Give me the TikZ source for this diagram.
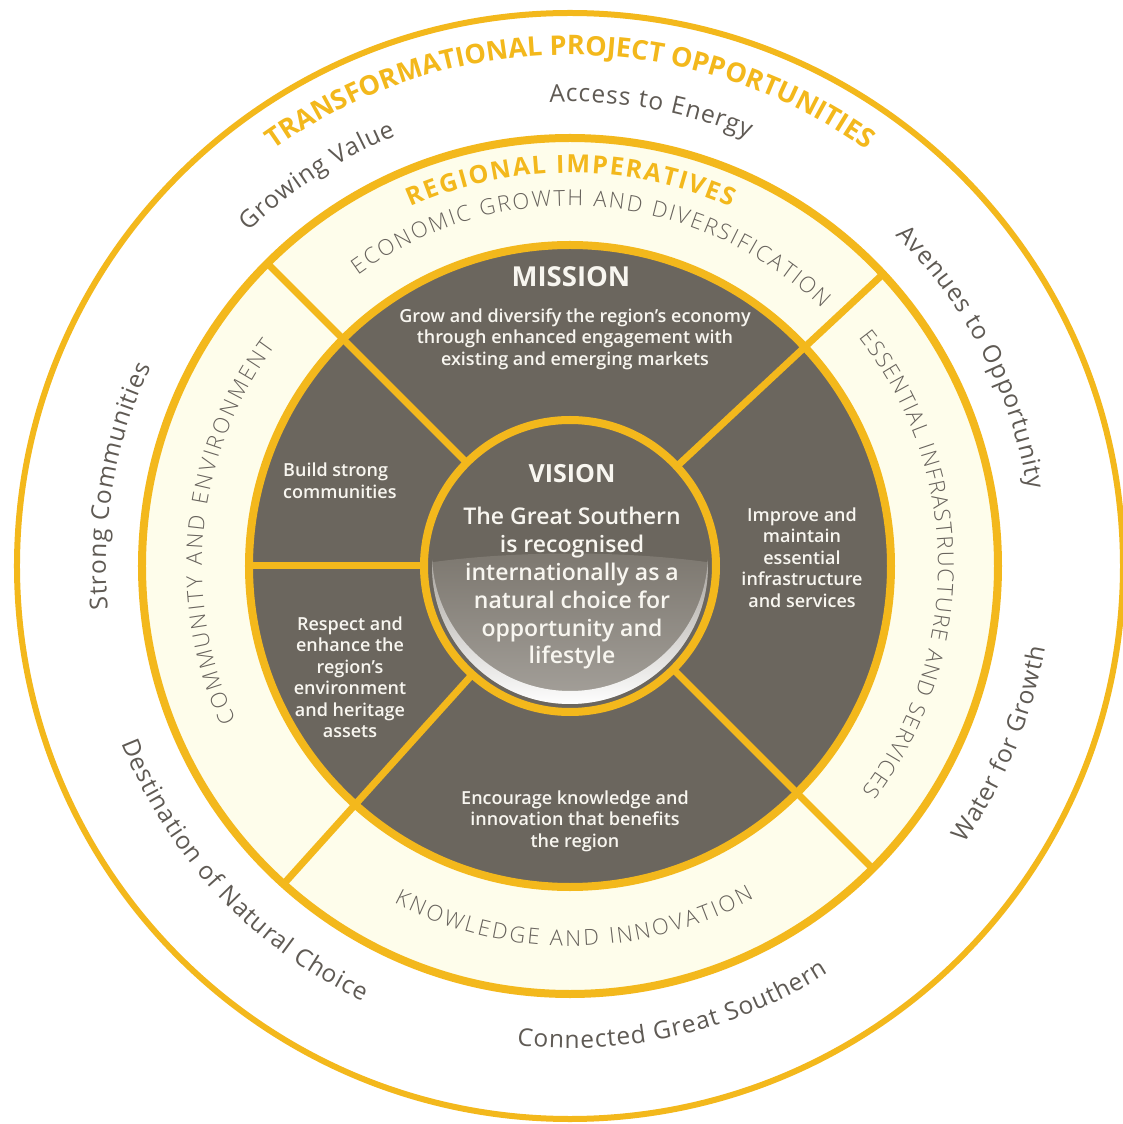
\documentclass[tikz,border=0pt]{standalone}
\usepackage{fontspec}
\setmainfont{Open Sans}
\IfFontExistsTF{Open Sans Semibold}{\newfontfamily\semifont{Open Sans Semibold}}{%
  \IfFontExistsTF{Open Sans SemiBold}{\newfontfamily\semifont{Open Sans SemiBold}}{\newfontfamily\semifont{Open Sans}}}
\IfFontExistsTF{Open Sans Light}{\newfontfamily\lightfont{Open Sans Light}}{\newfontfamily\lightfont{Open Sans}}
\usetikzlibrary{decorations.text}
\definecolor{gold}{HTML}{F3B81C}
\definecolor{greyfill}{HTML}{6B665E}
\definecolor{cream}{HTML}{FEFDEB}
\definecolor{txtgrey}{HTML}{5F5A54}
\definecolor{bandgrey}{HTML}{67625C}
\definecolor{txtwhite}{HTML}{F8F6F0}
\definecolor{visA}{HTML}{7C776F}
\definecolor{visB}{HTML}{A8A49E}
\newcommand\fOuter{\fontsize{24.5}{24.5}\selectfont\kern0.9pt}
\newcommand\fTrans{\bfseries\fontsize{27}{27}\selectfont}
\newcommand\fRegHead{\bfseries\fontsize{25}{25}\selectfont\kern1.7pt}
\newcommand\fBand{\lightfont\fontsize{22}{22}\selectfont}
% clockwise text (letters point outward), baseline radius #1, centre angle #2
\newcommand\cwtext[4]{%
  \pgfmathsetmacro\myAngA{#2+80}\pgfmathsetmacro\myAngB{#2-80}%
  \path[decorate,decoration={text along path,text align=center,text color=#3,text={#4}}]
    (\myAngA:#1pt) arc[start angle=\myAngA,end angle=\myAngB,radius=#1pt];}
% counter-clockwise text (letters point inward)
\newcommand\ccwtext[4]{%
  \pgfmathsetmacro\myAngA{#2+80}\pgfmathsetmacro\myAngB{#2-80}%
  \path[decorate,decoration={text along path,text align=center,text color=#3,text={#4}}]
    (\myAngB:#1pt) arc[start angle=\myAngB,end angle=\myAngA,radius=#1pt];}
\tikzset{
  goldring/.style={draw=gold,line width=#1},
  divider/.style={draw=gold,line width=7pt},
  bodytext/.style={text=txtwhite,font=\semifont\fontsize{18}{21.5}\selectfont,align=center,inner sep=0pt},
  headtext/.style={text=txtwhite,font=\bfseries\fontsize{25}{25}\selectfont,inner sep=0pt},
  visiontext/.style={text=txtwhite,font=\semifont\fontsize{23}{27.8}\selectfont,align=center,inner sep=0pt},
}
\begin{document}
\begin{tikzpicture}[x=1pt,y=1pt]
\useasboundingbox (-570,-558) rectangle (553,566);
\fill[white] (-570,-558) rectangle (553,566);
% outer ring
\draw[goldring=6pt] (0,0) circle[radius=553pt];
% regional band
\fill[cream] (0,0) circle[radius=428pt];
\draw[goldring=8pt] (0,0) circle[radius=428pt];
% mission disc
\fill[greyfill] (0,0) circle[radius=321pt];
\draw[goldring=8pt] (0,0) circle[radius=321pt];
% dividers
\draw[divider] (135:146pt) -- (135:428pt);
\draw[divider] (43:146pt) -- (43:428pt);
\draw[divider] (-45:146pt) -- (-45:428pt);
\draw[divider] (228:146pt) -- (228:428pt);
\draw[divider] (180:146pt) -- (180:321pt);
% vision disc
\fill[greyfill] (0,0) circle[radius=146pt];
\begin{scope}
  \clip (0,0) circle[radius=138pt];
  \shade[top color=visA,bottom color=visB] (-150,2) .. controls (-60,16) and (60,16) .. (150,2) -- (150,-150) -- (-150,-150) -- cycle;
  \shade[top color=visB,bottom color=white]
    (177.3:138pt) arc[start angle=177.3,end angle=362.7,radius=138pt]
    arc[start angle=-2.7,end angle=-177.3,radius=138pt] -- cycle;
\end{scope}
\draw[goldring=8pt] (0,0) circle[radius=146pt];
% curved titles
\cwtext{511}{90}{gold}{|\fTrans|TRANSFORMATIONAL PROJECT OPPORTUNITIES}
\cwtext{393}{90}{gold}{|\fRegHead|REGIONAL IMPERATIVES}
% outer labels
\cwtext{464}{80}{txtgrey}{|\fOuter|Access to Energy}
\cwtext{464}{123}{txtgrey}{|\fOuter|Growing Value}
\cwtext{464}{27.5}{txtgrey}{|\fOuter|Avenues to Opportunity}
\cwtext{464}{170}{txtgrey}{|\fOuter|Strong Communities}
\ccwtext{482}{-22.5}{txtgrey}{|\fOuter|Water for Growth}
\ccwtext{482}{-77}{txtgrey}{|\fOuter|Connected Great Southern}
\ccwtext{482}{223}{txtgrey}{|\fOuter|Destination of Natural Choice}
% band labels
\cwtext{360}{86}{bandgrey}{|\fBand\kern2pt|ECONOMIC GROWTH AND DIVERSIFICATION}
\cwtext{368}{0.5}{bandgrey}{|\fBand\kern1.4pt|ESSENTIAL INFRASTRUCTURE AND SERVICES}
\cwtext{368}{174.2}{bandgrey}{|\fBand\kern2.5pt|COMMUNITY AND ENVIRONMENT}
\ccwtext{380}{270.5}{bandgrey}{|\fBand\kern2.5pt|KNOWLEDGE AND INNOVATION}
% mission texts
\node[headtext,font=\bfseries\fontsize{27.5}{27.5}\selectfont] (mission) at (1,289) {MISSION};
\node[bodytext] (missionbody) at (5,227) {Grow and diversify the region’s economy\\through enhanced engagement with\\existing and emerging markets};
\node[bodytext,align=left,anchor=west] (build) at (-287,85) {Build strong\\communities};
\node[bodytext] (respect) at (-220,-111) {Respect and\\enhance the\\region’s\\environment\\and heritage\\assets};
\node[bodytext] (improve) at (232,8.5) {Improve and\\maintain\\essential\\infrastructure\\and services};
\node[bodytext] (encourage) at (5,-255) {Encourage knowledge and\\innovation that benefits\\the region};
% vision texts
\node[headtext] (vision) at (2,92) {VISION};
\node[visiontext] (visionbody) at (2,-22.5) {The Great Southern\\is recognised\\internationally as a\\natural choice for\\opportunity and\\lifestyle};
\end{tikzpicture}
\end{document}
